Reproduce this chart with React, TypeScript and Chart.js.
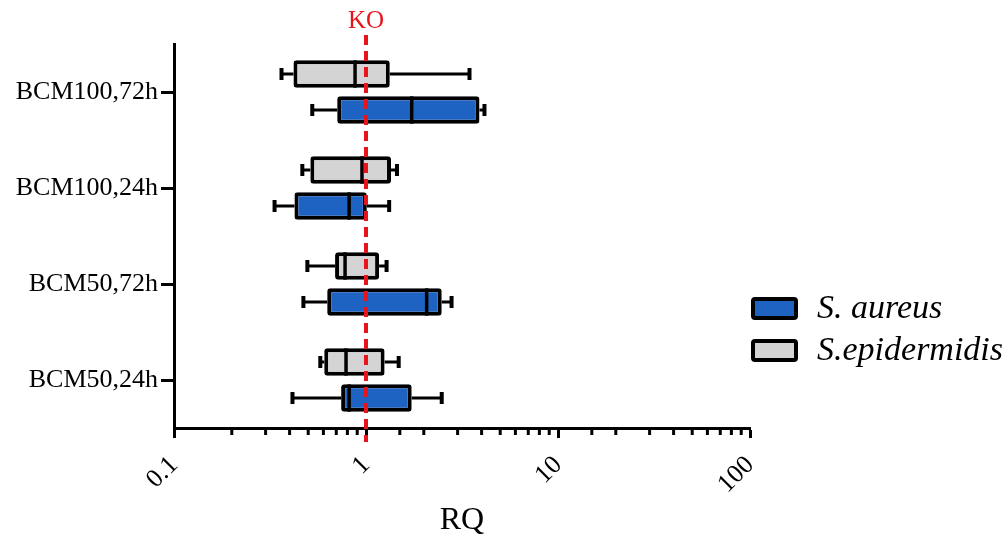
import React, { useEffect, useRef } from "react";
import { Chart, registerables } from "chart.js";

Chart.register(...registerables);

// ---- data ----
const categories = ["BCM100,72h", "BCM100,24h", "BCM50,72h", "BCM50,24h"];
const seriesNames = ["S. aureus", "S.epidermidis"];
// S. aureus box statistics (per category)
const aureusMin = [0.525, 0.334, 0.472, 0.414];
const aureusQ1 = [0.708, 0.424, 0.628, 0.742];
const aureusMedian = [1.73, 0.817, 2.07, 0.817];
const aureusQ3 = [3.9, 1.01, 2.48, 1.73];
const aureusMax = [4.14, 1.32, 2.79, 2.48];
// S. epidermidis box statistics (per category)
const epiMin = [0.363, 0.466, 0.495, 0.578];
const epiQ1 = [0.419, 0.513, 0.69, 0.606];
const epiMedian = [0.877, 0.953, 0.778, 0.787];
const epiQ3 = [1.33, 1.35, 1.17, 1.25];
const epiMax = [3.46, 1.45, 1.28, 1.48];
const xTickLabels = ["0.1", "1", "10", "100"];
const referenceValue = 1;
const referenceLabel = "KO";
const xTitle = "RQ";

const BLUE = "#1f63c2";
const GRAY = "#d4d4d4";
const RED = "#e8141c";
const FONT = "'Liberation Serif', 'Times New Roman', serif";

const isDecade = (v: number) =>
  Math.abs(Math.log10(v) - Math.round(Math.log10(v))) < 1e-9;

const boxPlugin = {
  id: "boxWhiskers",
  beforeDatasetsDraw(chart: any) {
    const ctx = chart.ctx;
    const xs = chart.scales.x;
    chart.data.datasets.forEach((ds: any, di: number) => {
      const meta = chart.getDatasetMeta(di);
      meta.data.forEach((bar: any, i: number) => {
        const { y } = bar.getProps(["y"], true);
        const pMin = xs.getPixelForValue(ds.stats.min[i]);
        const pQ1 = xs.getPixelForValue(ds.stats.q1[i]);
        const pQ3 = xs.getPixelForValue(ds.stats.q3[i]);
        const pMax = xs.getPixelForValue(ds.stats.max[i]);
        ctx.save();
        ctx.strokeStyle = "#000";
        ctx.lineWidth = 3;
        ctx.beginPath();
        ctx.moveTo(pMin, y);
        ctx.lineTo(pQ1, y);
        ctx.moveTo(pQ3, y);
        ctx.lineTo(pMax, y);
        ctx.stroke();
        ctx.lineWidth = 4;
        ctx.beginPath();
        ctx.moveTo(pMin, y - 6);
        ctx.lineTo(pMin, y + 6);
        ctx.moveTo(pMax, y - 6);
        ctx.lineTo(pMax, y + 6);
        ctx.stroke();
        ctx.restore();
      });
    });
  },
  afterDatasetsDraw(chart: any) {
    const ctx = chart.ctx;
    const xs = chart.scales.x;
    chart.data.datasets.forEach((ds: any, di: number) => {
      const meta = chart.getDatasetMeta(di);
      meta.data.forEach((bar: any, i: number) => {
        const { y, height } = bar.getProps(["y", "height"], true);
        const pMed = xs.getPixelForValue(ds.stats.median[i]);
        ctx.save();
        ctx.strokeStyle = "#000";
        ctx.lineWidth = 3.5;
        ctx.beginPath();
        ctx.moveTo(pMed, y - height / 2);
        ctx.lineTo(pMed, y + height / 2);
        ctx.stroke();
        ctx.restore();
      });
    });
  },
};

const minorTickPlugin = {
  id: "minorTicks",
  afterDraw(chart: any) {
    const ctx = chart.ctx;
    const xs = chart.scales.x;
    const base = chart.chartArea.bottom;
    ctx.save();
    ctx.strokeStyle = "#000";
    ctx.lineWidth = 3;
    xs.ticks.forEach((t: any) => {
      if (isDecade(t.value)) return;
      const px = xs.getPixelForValue(t.value);
      ctx.beginPath();
      ctx.moveTo(px, base);
      ctx.lineTo(px, base + 7);
      ctx.stroke();
    });
    ctx.restore();
  },
};

const referencePlugin = {
  id: "referenceLine",
  afterDraw(chart: any) {
    const ctx = chart.ctx;
    const xs = chart.scales.x;
    const { top, bottom } = chart.chartArea;
    const px = xs.getPixelForValue(referenceValue);
    ctx.save();
    ctx.strokeStyle = RED;
    ctx.lineWidth = 4;
    ctx.setLineDash([10, 6]);
    ctx.beginPath();
    ctx.moveTo(px, top - 9);
    ctx.lineTo(px, bottom + 14);
    ctx.stroke();
    ctx.setLineDash([]);
    ctx.fillStyle = RED;
    ctx.font = `25px ${FONT}`;
    ctx.textAlign = "center";
    ctx.textBaseline = "alphabetic";
    ctx.fillText(referenceLabel, px, top - 16);
    ctx.restore();
  },
};

const legendPlugin = {
  id: "customLegend",
  afterDraw(chart: any) {
    const ctx = chart.ctx;
    const { right } = chart.chartArea;
    const items = [...chart.data.datasets].reverse();
    ctx.save();
    items.forEach((ds: any, k: number) => {
      const sx = right + 3;
      const sy = 299 + k * 42;
      ctx.fillStyle = ds.backgroundColor;
      ctx.strokeStyle = "#000";
      ctx.lineWidth = 4;
      ctx.beginPath();
      (ctx as any).roundRect(sx, sy, 43, 19, 2);
      ctx.fill();
      ctx.stroke();
      ctx.fillStyle = "#000";
      ctx.font = `italic 34px ${FONT}`;
      ctx.textAlign = "left";
      ctx.textBaseline = "alphabetic";
      ctx.fillText(ds.label, sx + 64, sy + 19);
    });
    ctx.restore();
  },
};

export default function App() {
  const ref = useRef<HTMLCanvasElement>(null);
  useEffect(() => {
    if (!ref.current) return;
    const mk = (q1: number[], q3: number[]) =>
      categories.map((_, i) => [q1[i], q3[i]]);
    const chart = new Chart(ref.current, {
      type: "bar",
      data: {
        labels: categories,
        datasets: [
          {
            label: seriesNames[1],
            data: mk(epiQ1, epiQ3) as any,
            backgroundColor: GRAY,
            borderColor: "#000",
            borderWidth: 4,
            borderSkipped: false,
            borderRadius: 3,
            stats: { min: epiMin, q1: epiQ1, median: epiMedian, q3: epiQ3, max: epiMax },
          } as any,
          {
            label: seriesNames[0],
            data: mk(aureusQ1, aureusQ3) as any,
            backgroundColor: BLUE,
            borderColor: "#000",
            borderWidth: 4,
            borderSkipped: false,
            borderRadius: 3,
            stats: { min: aureusMin, q1: aureusQ1, median: aureusMedian, q3: aureusQ3, max: aureusMax },
          } as any,
        ],
      },
      options: {
        animation: false,
        responsive: false,
        indexAxis: "y",
        layout: { padding: { left: 0, right: 258, top: 44, bottom: 0 } },
        datasets: { bar: { categoryPercentage: 0.75, barPercentage: 0.76 } },
        plugins: { legend: { display: false }, tooltip: { enabled: false } },
        scales: {
          x: {
            type: "logarithmic",
            min: 0.1,
            max: 100,
            afterFit: (s: any) => {
              s.height = 114;
            },
            border: { color: "#000", width: 3 },
            grid: {
              drawOnChartArea: false,
              drawTicks: true,
              tickLength: 10,
              tickWidth: 3,
              tickColor: (c: any) =>
                c.tick && isDecade(c.tick.value) ? "#000" : "rgba(0,0,0,0)",
            },
            ticks: {
              autoSkip: false,
              minRotation: 45,
              maxRotation: 45,
              padding: 12,
              color: "#000",
              font: { family: FONT, size: 26 },
              callback: (v: any) => {
                const n = Number(v);
                if (!isDecade(n)) return "";
                const idx = Math.round(Math.log10(n)) + 1;
                return xTickLabels[idx] ?? "";
              },
            },
            title: {
              display: true,
              text: xTitle,
              color: "#000",
              font: { family: FONT, size: 32 },
              padding: { top: 0, bottom: 2 },
            },
          } as any,
          y: {
            type: "category",
            afterFit: (s: any) => {
              s.width = 174;
            },
            border: { color: "#000", width: 3 },
            grid: {
              offset: false,
              drawOnChartArea: false,
              drawTicks: true,
              tickLength: 13,
              tickWidth: 3,
              tickColor: "#000",
            },
            ticks: {
              padding: 3,
              color: "#000",
              font: { family: FONT, size: 26 },
            },
          } as any,
        },
      },
      plugins: [boxPlugin, minorTickPlugin, referencePlugin, legendPlugin],
    });
    return () => chart.destroy();
  }, []);
  return (
    <div style={{ position: "fixed", left: 0, top: 0, width: 1008, height: 542, background: "#fff" }}>
      <canvas ref={ref} width={1008} height={542} style={{ display: "block" }} />
    </div>
  );
}
